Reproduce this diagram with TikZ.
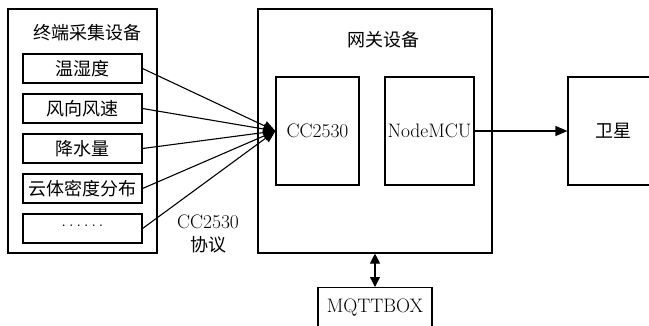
\documentclass[tikz,border=0pt]{standalone}
\usepackage{fontspec}
\newfontfamily\cjk{Noto Sans CJK SC}
\usetikzlibrary{arrows.meta}
\newcommand{\zh}[1]{{\fontsize{18}{21}\selectfont\cjk #1}}
\newcommand{\sixdots}{\raisebox{5pt}{.\hspace{2.6pt}.\hspace{2.6pt}.\hspace{2.6pt}.\hspace{2.6pt}.\hspace{2.6pt}.}}
\begin{document}
\begin{tikzpicture}[x=1pt,y=-1pt,
  box/.style={draw, line width=1.1pt, rectangle, inner sep=0pt, font=\fontsize{19.5}{22}\selectfont},
  txt/.style={inner sep=0pt, font=\fontsize{19.5}{22}\selectfont},
  arr/.style={line width=1.1pt, -{Triangle[length=12pt,width=10pt]}},
  darr/.style={line width=1.1pt, {Triangle[length=10pt,width=10pt]}-{Triangle[length=10pt,width=10pt]}}]
\useasboundingbox (0,0) rectangle (649,325);
% terminal devices
\node[box, minimum width=149, minimum height=244] (term) at (82.5,131) {};
\node[txt] (termt) at (88,33) {\zh{终端采集设备}};
\node[box, minimum width=119, minimum height=29] (s1) at (82.5,68.5) {\zh{温湿度}};
\node[box, minimum width=119, minimum height=29] (s2) at (82.5,108.5) {\zh{风向风速}};
\node[box, minimum width=119, minimum height=29] (s3) at (82.5,148.5) {\zh{降水量}};
\node[box, minimum width=119, minimum height=29] (s4) at (82.5,188.5) {\zh{云体密度分布}};
\node[box, minimum width=119, minimum height=29] (s5) at (82.5,228.5) {\sixdots};
% gateway
\node[box, minimum width=234, minimum height=244] (gw) at (375,131) {};
\node[txt] (gwt) at (383,40) {\zh{网关设备}};
\node[box, minimum width=83, minimum height=108] (cc) at (317.5,131) {CC2530};
\node[box, minimum width=89, minimum height=108] (nm) at (429.5,131) {NodeMCU};
% satellite
\node[box, minimum width=90, minimum height=108] (sat) at (613,131) {\zh{卫星}};
% MQTTBOX
\node[box, minimum width=114, inner ysep=0pt, text height=25pt, text depth=24pt, anchor=north] (mq) at (375,287) {MQTTBOX};
% protocol label
\node[txt, align=center] (proto) at (208,234) {CC2530\\[1pt]\zh{协议}};
% connectors
\foreach \s in {s1,s2,s3,s4,s5} \draw[arr] (\s.east) -- (cc.west);
\draw[arr] (nm.east) -- (sat.west);
\draw[darr] (gw.south) -- (mq.north);
\end{tikzpicture}
\end{document}
